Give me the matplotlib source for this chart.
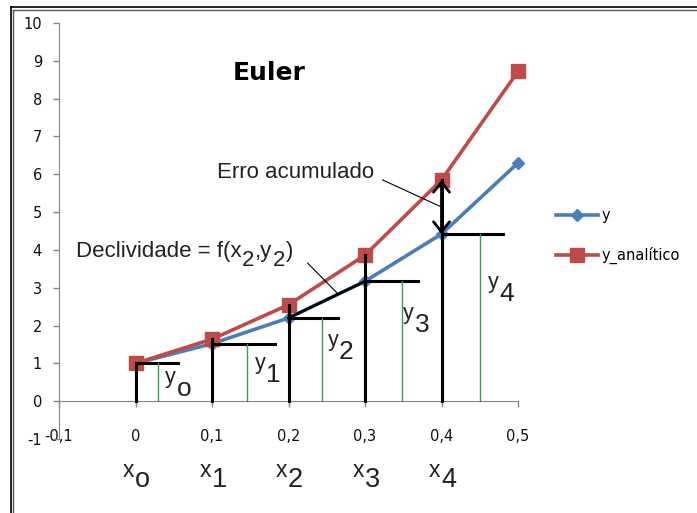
import matplotlib
matplotlib.use('Agg')
import matplotlib.pyplot as plt
from matplotlib.lines import Line2D

plt.rcParams['axes.unicode_minus'] = False

# dados
x = [0, 0.1, 0.2, 0.3, 0.4, 0.5]
y_euler = [1.0, 1.52, 2.2, 3.17, 4.42, 6.3]
y_analitico = [1.0, 1.64, 2.55, 3.86, 5.85, 8.72]
xtick_vals = [-0.1, 0, 0.1, 0.2, 0.3, 0.4, 0.5]
xtick_labels = ['-0,1', '0', '0,1', '0,2', '0,3', '0,4', '0,5']
ytick_vals = list(range(-1, 11))
subs = ['o', '1', '2', '3', '4']

# tamanho dos tracos de anotacao (desenho a mao no original)
step_len = [0.056, 0.082, 0.065, 0.069, 0.08]
green_off = [0.03, 0.046, 0.044, 0.048, 0.05]
ylab_pos = [(0.039, 0.48), (0.156, 0.85), (0.251, 1.46), (0.350, 2.17), (0.461, 2.99)]

FAM = 'Liberation Sans'
green = '#33a04b'
axcol = '#868686'

fig = plt.figure(figsize=(6.97, 5.13), dpi=100)
ax = fig.add_axes([59/697, 74/513, 459/697, 416/513])

ax.plot(x, y_euler, color='#4a7ebb', lw=2.6, marker='D', ms=6.5, label='y', zorder=3, clip_on=False)
ax.plot(x, y_analitico, color='#be4b48', lw=2.6, marker='s', ms=10.5, label='y_analítico', zorder=3,
        clip_on=False)

ax.set_xlim(-0.1, 0.5)
ax.set_ylim(-1, 10)
ax.set_xticks(xtick_vals)
ax.set_xticklabels(xtick_labels)
ax.set_yticks(ytick_vals)
ax.spines['bottom'].set_position(('data', 0))
ax.spines['top'].set_visible(False)
ax.spines['right'].set_visible(False)
ax.spines['left'].set_color(axcol)
ax.spines['bottom'].set_color(axcol)
ax.tick_params(axis='x', direction='out', length=4.3, width=1, color=axcol, pad=15.5,
               labelsize=10.5, labelcolor='#111111')
ax.tick_params(axis='y', direction='out', length=4.3, width=1, color=axcol, pad=8,
               labelsize=10.5, labelcolor='#111111')


def chain(xd, yd, parts, ha='left'):
    # parts: (texto, tamanho, deslocamento vertical em pt)
    t = ax.text(xd, yd, parts[0][0], fontsize=parts[0][1], family=FAM, va='baseline',
                ha=ha, color='#222222', zorder=6)
    for s, size, dy in parts[1:]:
        t = ax.annotate(s, xy=(1, yd), xycoords=(t, 'data'), xytext=(0.5, dy),
                        textcoords='offset points', fontsize=size, family=FAM,
                        va='baseline', ha='left', color='#222222', zorder=6)
    return t


for i in range(5):
    xi, yi, ai = x[i], y_euler[i], y_analitico[i]
    ax.plot([xi, xi], [0, ai], color='k', lw=2.2, zorder=4)
    ax.plot([xi, xi + step_len[i]], [yi, yi], color='k', lw=2.2, zorder=4)
    ax.plot([xi + green_off[i]] * 2, [0, yi], color=green, lw=1, zorder=4)
    px, py = ylab_pos[i]
    chain(px, py, [('y', 15.5, 0), (subs[i], 19, -9.4)])
    chain(xi - 0.009, -2.01, [('x', 16.5, 0), (subs[i], 19.5, -7.2)], ha='center')

# erro acumulado
ax.annotate('', xy=(x[4], y_analitico[4]), xytext=(x[4], y_euler[4]),
            arrowprops=dict(arrowstyle='<->,head_length=0.45,head_width=0.36', lw=2,
                            color='k', shrinkA=0, shrinkB=0, mutation_scale=16), zorder=5)
# declividade
ax.plot([x[2], x[3]], [y_euler[2], y_euler[3]], color='k', lw=2, zorder=4)

ax.plot([0.323, x[4]], [5.85, (y_euler[4] + y_analitico[4]) / 2], color='k', lw=0.8, zorder=5)
xe = x[2] + 0.065
ax.plot([0.225, xe], [3.65, y_euler[2] + (y_euler[3] - y_euler[2]) * 0.65], color='k', lw=0.8, zorder=5)

ax.text(0.107, 5.90, 'Erro acumulado', fontsize=16, family=FAM, va='baseline', color='#222222')
chain(-0.078, 3.81, [('Declividade = f(x', 16, 0), ('2', 16, -6.5), (',y', 16, 0),
                     ('2', 16, -6.5), (')', 16, 0)])

ax.text(0.175, 8.49, 'Euler', fontsize=18, fontweight='bold', ha='center', va='baseline')

ax.legend(loc='center left', bbox_to_anchor=(556/697, 1 - 236/513), bbox_transform=fig.transFigure,
          frameon=False, fontsize=10.5, handlelength=2.9, handletextpad=0.2, labelspacing=1.65,
          borderpad=0, borderaxespad=0)

# moldura dupla
fig.add_artist(Line2D([10.5/697, 1], [1 - 7/513] * 2, transform=fig.transFigure, color='k', lw=1.2))
fig.add_artist(Line2D([13/697, 1], [1 - 9.5/513] * 2, transform=fig.transFigure, color='#555555', lw=1))
fig.add_artist(Line2D([10.5/697] * 2, [0, 1 - 7/513], transform=fig.transFigure, color='k', lw=1.2))
fig.add_artist(Line2D([13/697] * 2, [0, 1 - 9.5/513], transform=fig.transFigure, color='#555555', lw=1))

fig.savefig('out.png', dpi=100)
